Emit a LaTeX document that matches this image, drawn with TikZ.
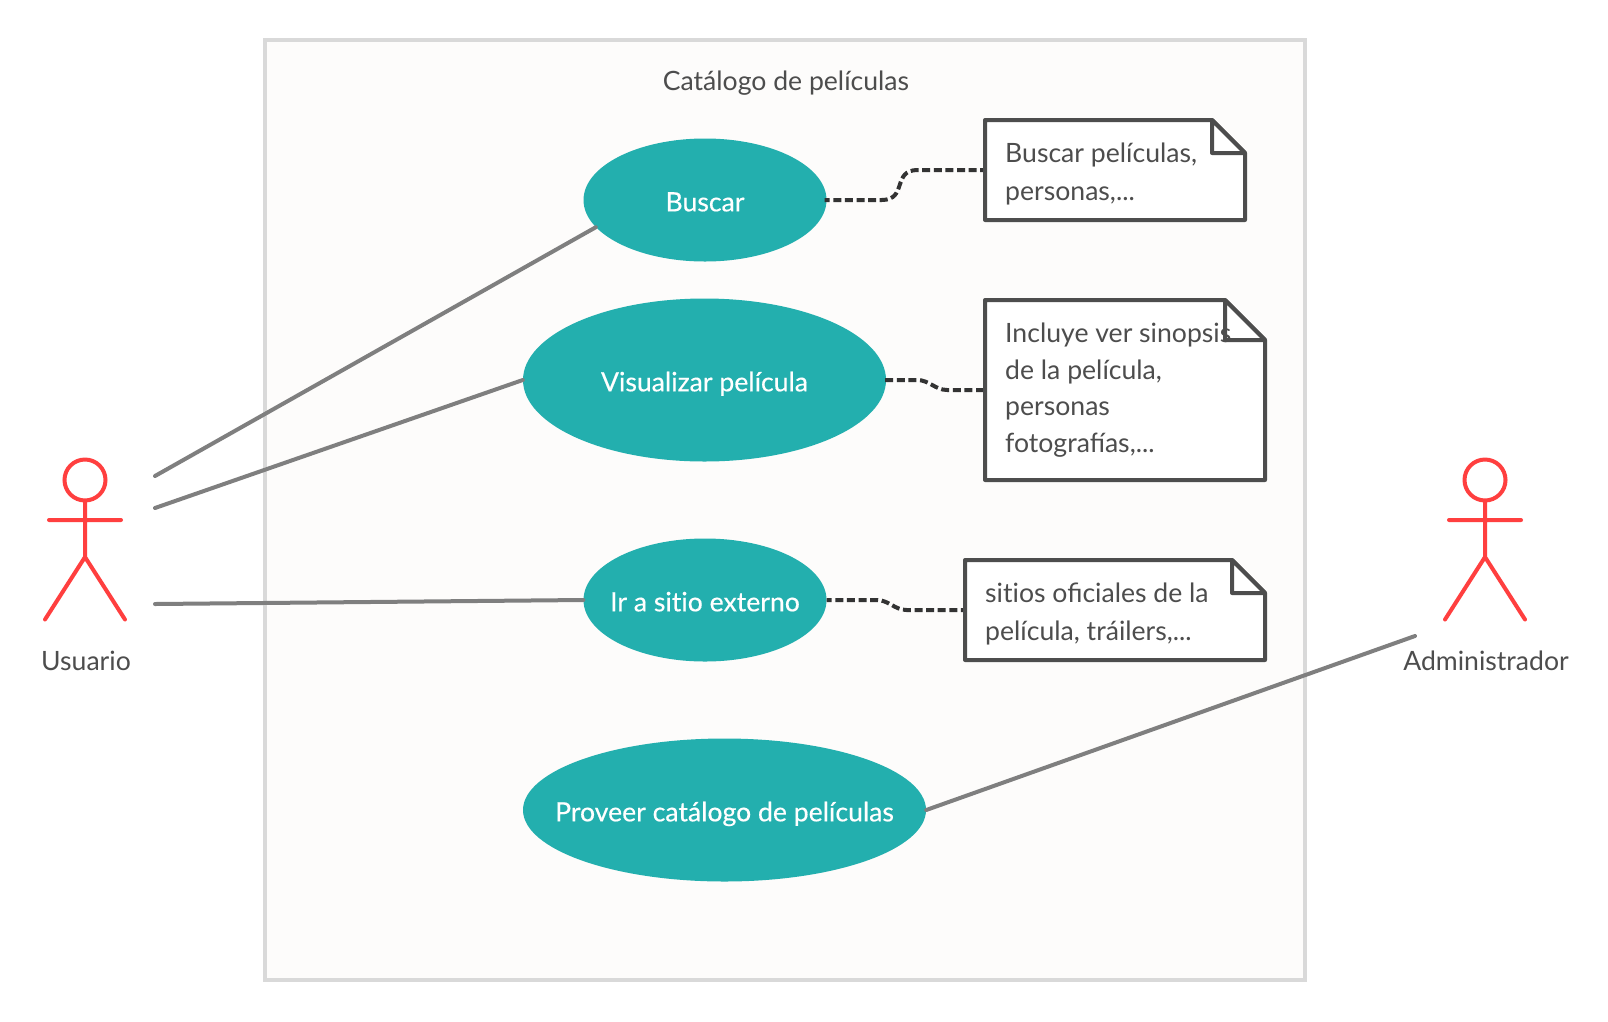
\documentclass[tikz,border=0pt]{standalone}
\usepackage{fontspec}
\setmainfont{Lato}
\newfontfamily\ucfont[FakeBold=0.4]{Lato}
\usetikzlibrary{calc,shapes.geometric}
\definecolor{framefill}{HTML}{FDFCFB}
\definecolor{frameline}{HTML}{D9D9D9}
\definecolor{teal1}{HTML}{23AFAE}
\definecolor{assoc}{HTML}{7F7F7F}
\definecolor{noteline}{HTML}{4D4D4D}
\definecolor{dashline}{HTML}{333333}
\definecolor{txt}{HTML}{4D4D4D}
\definecolor{actorred}{HTML}{FF3F3F}
\newcommand{\txtsize}{\fontsize{26.6}{36.8}\selectfont}
\newcommand{\uctext}[1]{\raisebox{-11.3pt}[0pt][0pt]{\makebox[0pt]{#1}}}
\tikzset{
  frame/.style={draw=frameline,fill=framefill,line width=4pt},
  usecase/.style={shape=ellipse,fill=teal1,text=white,inner sep=0pt,font=\ucfont\txtsize},
  assocline/.style={draw=assoc,line width=4pt,line cap=round},
  noteanchor/.style={shape=rectangle,inner sep=0pt,outer sep=0pt},
  noteshape/.style={draw=noteline,fill=white,line width=4pt,line join=round},
  notetext/.style={anchor=north west,align=left,inner sep=0pt,text=txt,font=\txtsize},
  noteconn/.style={draw=dashline,line width=4pt,dash pattern=on 8pt off 3.6pt},
  actorline/.style={draw=actorred,line width=4pt,line cap=round},
  actorlabel/.style={text=txt,font=\txtsize,inner sep=0pt},
  label/.style={text=txt,font=\txtsize,inner sep=0pt}
}
\begin{document}
\begin{tikzpicture}[x=1pt,y=-1pt]
\useasboundingbox (0,0) rectangle (1608,1021);
\fill[white] (0,0) rectangle (1608,1021);
\node[frame,shape=rectangle,inner sep=0pt,minimum width=1040pt,minimum height=940pt] (sys) at (785,510) {};
\node[label] (title) at (786,83) {Catálogo de películas};
% use cases
\node[usecase,minimum width=243pt,minimum height=123pt] (buscar) at (705,200) {\uctext{Buscar}};
\node[usecase,minimum width=363pt,minimum height=163pt] (visual) at (704.5,380) {\uctext{Visualizar película}};
\node[usecase,minimum width=243pt,minimum height=123pt] (ir) at (705,600) {\uctext{Ir a sit\kern0pt io externo}};
\node[usecase,minimum width=403pt,minimum height=143pt] (proveer) at (724.5,810) {\uctext{Proveer catálogo de películas}};
% note anchors
\node[noteanchor,minimum width=260pt,minimum height=100pt] (n1) at (1115,170) {};
\node[noteanchor,minimum width=280pt,minimum height=180pt] (n2) at (1125,390) {};
\node[noteanchor,minimum width=300pt,minimum height=100pt] (n3) at (1115,610) {};
% note-connectors
\draw[noteconn,dash phase=3pt] ([xshift=-2pt]buscar.east) -- ++(57,0) .. controls +(26,0) and +(-26,0) .. ++(36,-30) -- (n1.west);
\draw[noteconn,dash phase=9.6pt] ([xshift=-3pt]visual.east) -- ++(34,0) .. controls +(12,0) and +(-12,0) .. ++(30,10) -- (n2.west);
\draw[noteconn,dash phase=3pt] (ir.east) -- ++(50,0) .. controls +(12,0) and +(-12,0) .. ++(30,10) -- (n3.west);
% notes
\draw[noteshape] (n1.north west) -- ++(227,0) -- ($(n1.north east)+(0,33)$) -- (n1.south east) -- (n1.south west) -- cycle;
\draw[noteshape] ($(n1.north west)+(227,0)$) -- ++(0,33) -- ++(33,0) -- cycle;
\draw[noteshape] (n2.north west) -- ++(240,0) -- ($(n2.north east)+(0,40)$) -- (n2.south east) -- (n2.south west) -- cycle;
\draw[noteshape] ($(n2.north west)+(240,0)$) -- ++(0,40) -- ++(40,0) -- cycle;
\draw[noteshape] (n3.north west) -- ++(267,0) -- ($(n3.north east)+(0,33)$) -- (n3.south east) -- (n3.south west) -- cycle;
\draw[noteshape] ($(n3.north west)+(267,0)$) -- ++(0,33) -- ++(33,0) -- cycle;
\node[notetext] (t1) at (1005,142.5) {Buscar películas,\\[1.6pt]personas,...};
\node[notetext] (t2) at (1005,322.5) {Incluye ver sinopsis\\de la película,\\personas\\fotografías,...};
\node[notetext] (t3) at (985,583) {sit\kern0pt ios oficiales de la\\[0.6pt]película, tráilers,...};
% left actor
\node[shape=circle,draw=actorred,line width=4pt,minimum size=41pt,inner sep=0pt] (uh) at (85,480) {};
\coordinate (uhip) at (85,557);
\coordinate (ual) at (49,520);
\coordinate (uar) at (121,520);
\coordinate (ull) at (45,619.5);
\coordinate (ulr) at (125,619.5);
\draw[actorline] (uh.south) -- (uhip) (ual) -- (uar) (ull) -- (uhip) -- (ulr);
\node[actorlabel] (ulabel) at (86,661) {Usuario};
% right actor
\node[shape=circle,draw=actorred,line width=4pt,minimum size=41pt,inner sep=0pt] (ah) at (1485,480) {};
\coordinate (ahip) at (1485,557);
\coordinate (aal) at (1449,520);
\coordinate (aar) at (1521,520);
\coordinate (all) at (1445,619.5);
\coordinate (alr) at (1525,619.5);
\draw[actorline] (ah.south) -- (ahip) (aal) -- (aar) (all) -- (ahip) -- (alr);
\node[actorlabel] (alabel) at (1486,661) {Administrador};
% associations
\coordinate (ua1) at (155,476);
\coordinate (ua2) at (155,508);
\coordinate (ua3) at (155,604);
\coordinate (aa1) at (1415,636);
\draw[assocline] (ua1) -- (buscar.194);
\draw[assocline] (ua2) -- (visual.west);
\draw[assocline] (ua3) -- (ir.west);
\draw[assocline] (aa1) -- (proveer.east);
\end{tikzpicture}
\end{document}
